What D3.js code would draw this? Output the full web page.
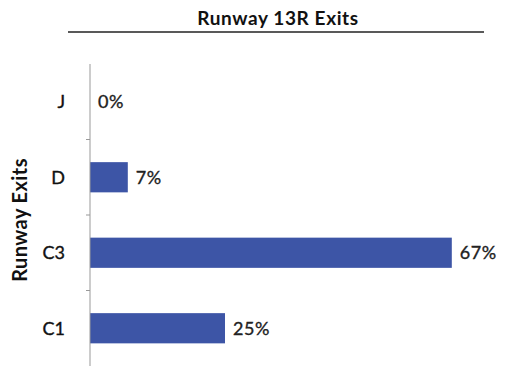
<!DOCTYPE html>
<html>
<head>
<meta charset="utf-8">
<script src="https://cdn.jsdelivr.net/npm/d3@7"></script>
<style>
  html, body { margin: 0; padding: 0; background: #fff; }
  svg { display: block; font-family: Lato, "Open Sans", sans-serif; }
</style>
</head>
<body>
<svg id="chart" width="508" height="367"></svg>
<script>
// Share of landings using each runway exit (percent)
const exits = ["J", "D", "C3", "C1"];
const shares = [0, 7, 67, 25];
const shareLabels = ["0%", "7%", "67%", "25%"];

const svg = d3.select("#chart");
const margin = { top: 64, left: 90 };
const plotH = 302;
const pxPerPercent = 5.4;

const x = d3.scaleLinear().domain([0, 100]).range([margin.left, margin.left + 100 * pxPerPercent]);
const y = d3.scaleBand().domain(exits).range([margin.top, margin.top + plotH]).paddingInner(0.6).paddingOuter(0.3);

// Title and rule beneath it
svg.append("text")
  .attr("x", 278).attr("y", 25)
  .attr("text-anchor", "middle")
  .attr("font-size", 19).attr("font-weight", 700)
  .attr("letter-spacing", 0.6)
  .attr("fill", "#111")
  .text("Runway 13R Exits");
svg.append("line")
  .attr("x1", 68).attr("x2", 484).attr("y1", 32).attr("y2", 32)
  .attr("stroke", "#222").attr("stroke-width", 1.5);

// Bars
svg.append("g").selectAll("rect")
  .data(exits)
  .join("rect")
  .attr("x", x(0))
  .attr("y", d => y(d))
  .attr("width", (d, i) => x(shares[i]) - x(0))
  .attr("height", y.bandwidth())
  .attr("fill", "#3d55a6");

// Category axis with boundary ticks
const axisG = svg.append("g");
axisG.append("line")
  .attr("x1", x(0)).attr("x2", x(0))
  .attr("y1", margin.top).attr("y2", margin.top + plotH)
  .attr("stroke", "#999").attr("stroke-width", 1);
const step = y.step();
axisG.selectAll("line.tick")
  .data(exits.slice(1))
  .join("line")
  .attr("class", "tick")
  .attr("x1", x(0) - 4).attr("x2", x(0))
  .attr("y1", d => y(d) - step * y.paddingInner() / 2)
  .attr("y2", d => y(d) - step * y.paddingInner() / 2)
  .attr("stroke", "#999");
axisG.selectAll("text")
  .data(exits)
  .join("text")
  .attr("x", x(0) - 25)
  .attr("y", d => y(d) + y.bandwidth() / 2)
  .attr("dy", "0.36em")
  .attr("text-anchor", "end")
  .attr("font-size", 18)
  .attr("fill", "#111")
  .attr("stroke", "#111").attr("stroke-width", 0.35)
  .text(d => d);

// Value labels
svg.append("g").selectAll("text")
  .data(exits)
  .join("text")
  .attr("x", (d, i) => x(shares[i]) + 8)
  .attr("y", d => y(d) + y.bandwidth() / 2)
  .attr("dy", "0.36em")
  .attr("font-size", 18)
  .attr("letter-spacing", 0.5)
  .attr("fill", "#222")
  .attr("stroke", "#222").attr("stroke-width", 0.35)
  .text((d, i) => shareLabels[i]);

// Axis title
svg.append("text")
  .attr("transform", "translate(27,220) rotate(-90)")
  .attr("text-anchor", "middle")
  .attr("font-size", 20).attr("font-weight", 700)
  .attr("letter-spacing", 0.4)
  .attr("fill", "#111")
  .text("Runway Exits");
</script>
</body>
</html>
